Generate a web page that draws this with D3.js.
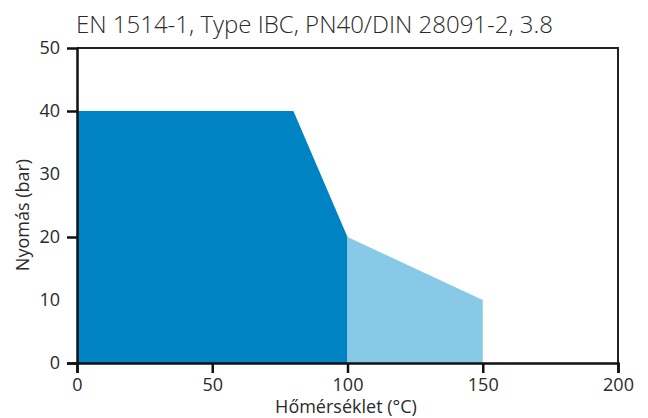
<!DOCTYPE html>
<html>
<head>
<meta charset="utf-8">
<script src="https://cdn.jsdelivr.net/npm/d3@7"></script>
<style>
  body { margin: 0; background: #fff; }
  text { font-family: "Open Sans", sans-serif; fill: #2a2a2a; }
</style>
</head>
<body>
<div id="chart"></div>
<script>
// data
const title = "EN 1514-1, Type IBC, PN40/DIN 28091-2, 3.8";
const xLabel = "Hőmérséklet (°C)";
const yLabel = "Nyomás (bar)";
const darkTemps = [0, 80, 100];
const darkPress = [40, 40, 20];
const lightTemps = [100, 150];
const lightPress = [20, 10];
const xMajor = [0, 50, 100, 150, 200];
const xMinor = [10, 20, 30, 40, 60, 70, 80, 90, 110, 120, 130, 140, 160, 170, 180, 190];
const yLabels = [0, 10, 20, 30, 40, 50];
const yMajor = [0, 20, 40];
const yMinor = [10, 30, 50];

const W = 648, H = 418;
const x = d3.scaleLinear().domain([0, 200]).range([77, 618]);
const y = d3.scaleLinear().domain([0, 50]).range([363, 48]);

const svg = d3.select("#chart").append("svg")
  .attr("width", W).attr("height", H);

const area = d3.area()
  .x(d => x(d[0]))
  .y0(y(0))
  .y1(d => y(d[1]));

svg.append("path")
  .datum(darkTemps.map((t, i) => [t, darkPress[i]]))
  .attr("d", area)
  .attr("fill", "#0083c3");

svg.append("path")
  .datum(lightTemps.map((t, i) => [t, lightPress[i]]))
  .attr("d", area)
  .attr("fill", "#88c9e7");

// cadre haut + droite
svg.append("path")
  .attr("d", `M${x(0)},${y(50)}H${x(200)}V${y(0)}`)
  .attr("fill", "none")
  .attr("stroke", "#222")
  .attr("stroke-width", 2);

// axe x
const gx = svg.append("g").attr("transform", `translate(0,${y(0)})`);
gx.call(d3.axisBottom(x).tickValues(xMinor).tickSize(4).tickFormat(""));
gx.call(d3.axisBottom(x).tickValues(xMajor).tickSize(10).tickFormat(d3.format("d")));
gx.selectAll(".domain").attr("stroke", "#111").attr("stroke-width", 2.5);
gx.selectAll("line").attr("stroke", "#111").attr("stroke-width", 2.5);
gx.selectAll("text").attr("font-size", 18).attr("font-family", null).attr("dy", "0.85em").style("fill", "#2a2a2a");

// axe y
const gy = svg.append("g").attr("transform", `translate(${x(0)},0)`);
gy.call(d3.axisLeft(y).tickValues(yMinor).tickSize(4).tickFormat(""));
gy.call(d3.axisLeft(y).tickValues(yMajor).tickSize(10).tickFormat(""));
gy.selectAll(".domain").attr("stroke", "#111").attr("stroke-width", 2.5);
gy.selectAll("line").attr("stroke", "#111").attr("stroke-width", 2.5);

svg.append("g").selectAll("text")
  .data(yLabels)
  .enter()
  .append("text")
  .attr("x", 60)
  .attr("y", d => y(d))
  .attr("dy", "0.35em")
  .attr("text-anchor", "end")
  .attr("font-size", 18)
  .text(d => d);

// titres
svg.append("text")
  .attr("x", 76).attr("y", 33)
  .attr("font-size", 24)
  .attr("font-weight", 300)
  .text(title);

svg.append("text")
  .attr("x", 346).attr("y", 413)
  .attr("text-anchor", "middle")
  .attr("font-size", 18)
  .text(xLabel);

svg.append("text")
  .attr("transform", `translate(29,215) rotate(-90)`)
  .attr("text-anchor", "middle")
  .attr("font-size", 18)
  .text(yLabel);
</script>
</body>
</html>
